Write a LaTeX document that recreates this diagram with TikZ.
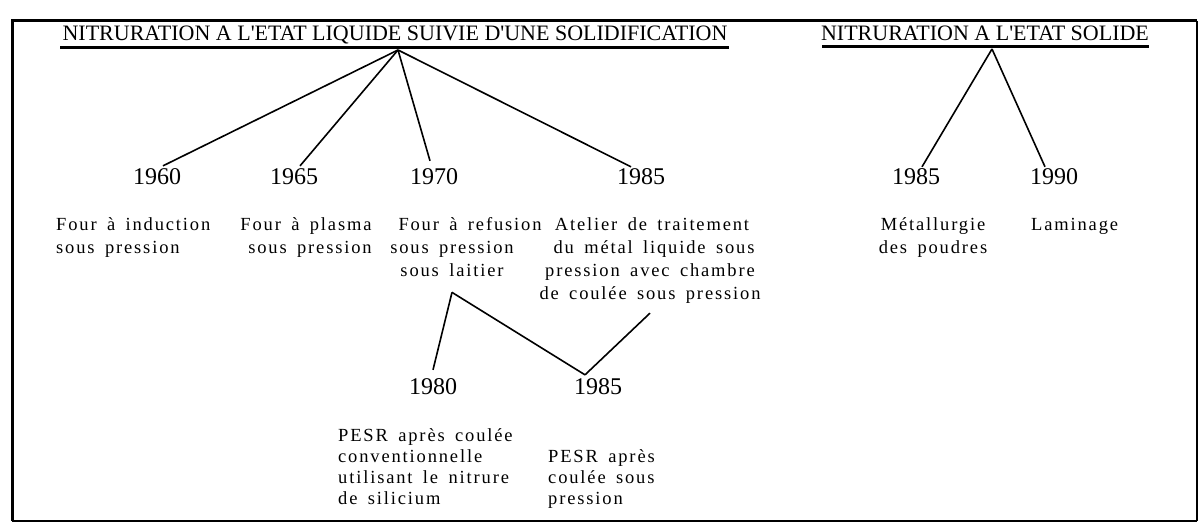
\documentclass[tikz,border=0pt]{standalone}
\usepackage{fontspec}
\setmainfont{Liberation Serif}
\newfontfamily\bodyfont[LetterSpace=10,WordSpace=1.6]{Liberation Serif}
\newcommand{\apos}{\textquotesingle}
\tikzset{
  ttl/.style={anchor=base,inner sep=0pt,font=\fontsize{22}{26}\selectfont},
  yr/.style={anchor=base,inner sep=0pt,font=\fontsize{24}{28}\selectfont},
  txt/.style={anchor=base,inner sep=0pt,font=\bodyfont\fontsize{18.5}{22}\selectfont},
  txtl/.style={txt,anchor=base west},
  uline/.style={line width=3pt},
  conn/.style={line width=1.6pt},
}
\begin{document}
\begin{tikzpicture}[x=1pt,y=-1pt]
\useasboundingbox (0,0) rectangle (1202,526);
% frame
\coordinate (ftl) at (12,21);
\coordinate (ftr) at (1197,21);
\coordinate (fbr) at (1197,521);
\coordinate (fbl) at (12,521);
\draw[line width=3pt] (fbl) -- (ftl) -- (ftr);
\draw[line width=2pt] (ftr) -- (fbr);
\draw[line width=1.2pt] (fbr) -- (fbl);
% titles
\node[ttl] (t1) at (395,41) {NITRURATION A L\apos ETAT LIQUIDE SUIVIE D\apos UNE SOLIDIFICATION};
\node[ttl] (t2) at (985,41) {NITRURATION A L\apos ETAT SOLIDE};
\coordinate (u1a) at (60,48);
\coordinate (u1b) at (729,48);
\coordinate (u2a) at (822,47);
\coordinate (u2b) at (1149,47);
\draw[uline] (u1a) -- (u1b);
\draw[uline] (u2a) -- (u2b);
\coordinate (a1) at (398,50);
\coordinate (a2) at (992,49);
% years
\node[yr] (y60) at (157,185) {1960};
\node[yr] (y65) at (294,185) {1965};
\node[yr] (y70) at (434,185) {1970};
\node[yr] (y85a) at (641,185) {1985};
\node[yr] (y85r) at (916,185) {1985};
\node[yr] (y90) at (1054,185) {1990};
\node[yr] (y80) at (433,395) {1980};
\node[yr] (y85b) at (598,395) {1985};
% texts
\node[txtl] (d60a) at (56,231) {Four à induction};
\node[txtl] (d60b) at (56,254) {sous pression};
\node[txt] (d65a) at (306,231) {Four à plasma};
\node[txt] (d65b) at (310,254) {sous pression};
\node[txt] (d70a) at (470,231) {Four à refusion};
\node[txt] (d70b) at (452,254) {sous pression};
\node[txt] (d70c) at (452,277) {sous laitier};
\node[txt] (d85a) at (652,231) {Atelier de traitement};
\node[txt] (d85b) at (654,254) {du métal liquide sous};
\node[txt] (d85c) at (650,277) {pression avec chambre};
\node[txt] (d85d) at (650,300) {de coulée sous pression};
\node[txt] (dmet) at (933,231) {Métallurgie};
\node[txt] (dpou) at (933,254) {des poudres};
\node[txtl] (dlam) at (1031,231) {Laminage};
\node[txtl] (d80a) at (338,441) {PESR après coulée};
\node[txtl] (d80b) at (338,462) {conventionnelle};
\node[txtl] (d80c) at (338,483) {utilisant le nitrure};
\node[txtl] (d80d) at (338,504) {de silicium};
\node[txtl] (d85e) at (548,462) {PESR après};
\node[txtl] (d85f) at (548,483) {coulée sous};
\node[txtl] (d85g) at (548,504) {pression};
% connectors
\draw[conn] (a1) -- ([xshift=6pt,yshift=3pt]y60.north);
\draw[conn] (a1) -- ([xshift=6pt,yshift=3pt]y65.north);
\draw[conn] (a1) -- ([xshift=-4pt,yshift=8pt]y70.north);
\draw[conn] (a1) -- ([xshift=-10pt,yshift=2pt]y85a.north);
\draw[conn] (a2) -- ([xshift=6pt,yshift=2pt]y85r.north);
\draw[conn] (a2) -- ([xshift=-9pt,yshift=2pt]y90.north);
\draw[conn] ([yshift=-15pt]d70c.south) -- ([yshift=9pt]y80.north);
\draw[conn] ([yshift=-15pt]d70c.south) -- ([xshift=-13pt,yshift=4pt]y85b.north);
\draw[conn] ([yshift=-9pt]d85d.south) -- ([xshift=-13pt,yshift=4pt]y85b.north);
\end{tikzpicture}
\end{document}
